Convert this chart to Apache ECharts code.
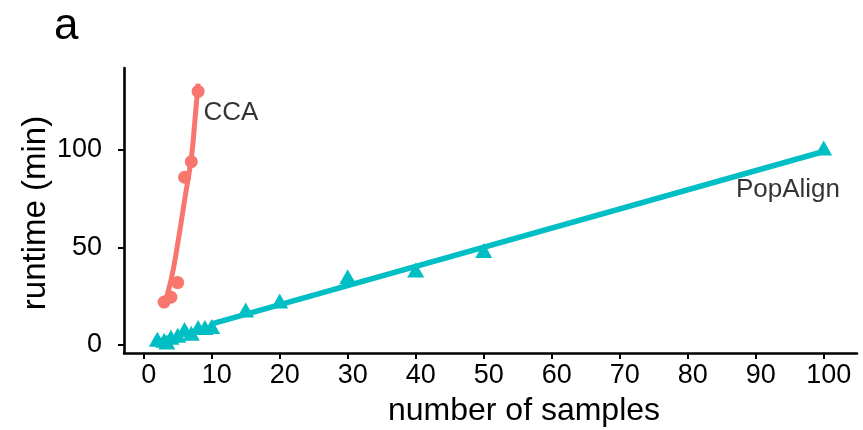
<!DOCTYPE html>
<html>
<head>
<meta charset="utf-8">
<script src="https://cdn.jsdelivr.net/npm/echarts@6/dist/echarts.min.js"></script>
<style>
html,body{margin:0;padding:0;background:#fff;}
#c{width:863px;height:430px;}
</style>
</head>
<body>
<div id="c"></div>
<script>
// Data
var xTicks = [0, 10, 20, 30, 40, 50, 60, 70, 80, 90, 100];
var yTicks = [0, 50, 100];
var ccaPoints = [[3, 22], [4, 24.5], [5, 32], [6, 86], [7, 94], [8, 130]];
var ccaCurve = [[3, 20.5], [4, 33], [5, 52], [6, 74], [7, 96], [7.5, 114], [8, 134]];
var popPoints = [[2, 3], [3, 2.5], [3.4, 1.5], [4, 4], [5, 5], [6, 8], [7, 6], [8, 9], [9, 9], [10, 9.5],
                 [15, 18], [20, 22.5], [30, 35], [40, 38.5], [50, 48.5], [100, 101]];
var popLine = [[10, 10.8], [100, 99.2]];
var seriesLabels = [
  {name: 'CCA', at: [8.8, 119]},
  {name: 'PopAlign', at: [87.1, 79.5]}
];
var xTitle = 'number of samples';
var yTitle = 'runtime (min)';
var panelTag = 'a';

var RED = '#F8766D', TEAL = '#00BFC4';
var FONT = '"Liberation Sans", Arial, sans-serif';

var chart = echarts.init(document.getElementById('c'), null, {renderer: 'canvas'});
chart.setOption({
  animation: false,
  backgroundColor: '#fff',
  grid: {left: 124, right: 6, top: 68, bottom: 77, containLabel: false},
  xAxis: {
    type: 'value', min: -2.9, max: 104.9,
    axisLine: {show: true, onZero: false, lineStyle: {color: '#000', width: 2.6}},
    axisTick: {show: true, length: 6, lineStyle: {color: '#000', width: 2}, customValues: xTicks},
    axisLabel: {fontFamily: FONT, fontSize: 27, color: '#000', margin: 9,
                padding: [0, 0, 0, 10], customValues: xTicks},
    splitLine: {show: false}
  },
  yAxis: {
    type: 'value', min: -4.1, max: 142,
    axisLine: {show: true, onZero: false, lineStyle: {color: '#000', width: 2.6}},
    axisTick: {show: true, length: 6, lineStyle: {color: '#000', width: 2}, customValues: yTicks},
    axisLabel: {fontFamily: FONT, fontSize: 27, color: '#000', margin: 22, customValues: yTicks},
    splitLine: {show: false}
  },
  series: [
    {type: 'scatter', data: ccaPoints, symbol: 'circle', symbolSize: 13,
     itemStyle: {color: RED, opacity: 1}, z: 2},
    {type: 'line', data: ccaCurve, smooth: true, showSymbol: false,
     lineStyle: {color: RED, width: 5}, z: 3},
    {type: 'scatter', data: popPoints, symbol: 'triangle', symbolSize: [17, 15],
     itemStyle: {color: TEAL, opacity: 1}, z: 2},
    {type: 'line', data: popLine, showSymbol: false,
     lineStyle: {color: TEAL, width: 5.5}, z: 3},
    {type: 'scatter', symbolSize: 0, z: 4,
     data: seriesLabels.map(function (d) { return {value: d.at, name: d.name}; }),
     label: {show: true, position: 'right', distance: 0, formatter: '{b}',
             fontFamily: FONT, fontSize: 26, color: '#000'}}
  ],
  graphic: [
    {type: 'text', x: 54, y: 27,
     style: {text: panelTag, font: '44px ' + FONT, fill: '#000', textAlign: 'left', textVerticalAlign: 'middle'}},
    {type: 'text', x: 524, y: 411,
     style: {text: xTitle, font: '32px ' + FONT, fill: '#000', textAlign: 'center', textVerticalAlign: 'middle'}},
    {type: 'text', x: 36, y: 213, rotation: Math.PI / 2,
     style: {text: yTitle, font: '33px ' + FONT, fill: '#000', textAlign: 'center', textVerticalAlign: 'middle'}}
  ]
});
</script>
</body>
</html>
